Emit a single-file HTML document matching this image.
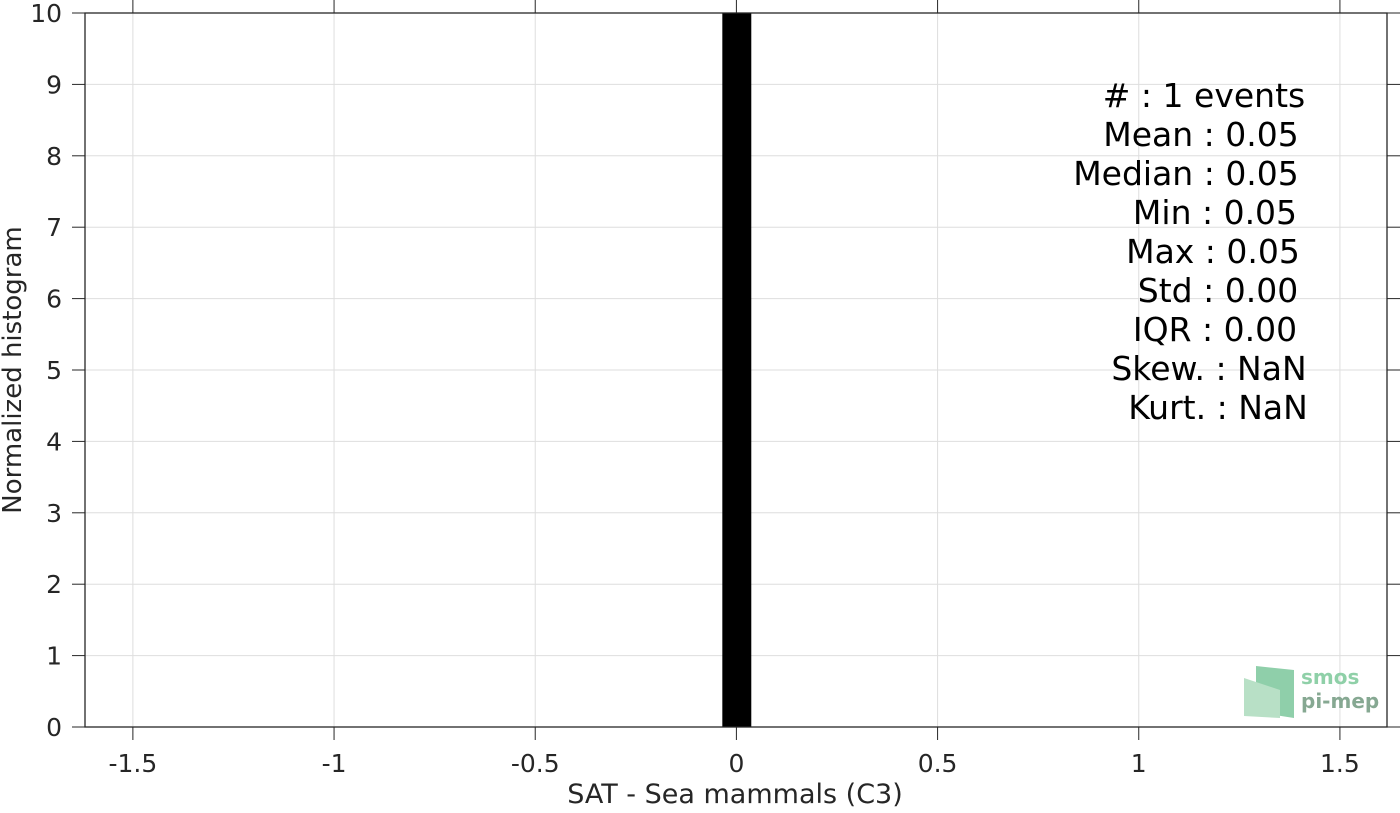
<!DOCTYPE html>
<html><head><meta charset="utf-8"><style>
body{margin:0;background:#fff;width:1400px;height:809px;overflow:hidden;font-family:"DejaVu Sans","Liberation Sans",sans-serif}
</style></head><body>
<svg id="c" width="1400" height="809" xmlns="http://www.w3.org/2000/svg"></svg>
<script>
const xTicks=[-1.5,-1,-0.5,0,0.5,1,1.5];
const xTickLabels=["-1.5","-1","-0.5","0","0.5","1","1.5"];
const yTicks=[0,1,2,3,4,5,6,7,8,9,10];
const binEdges=[[-0.035,0.037]];
const binValues=[10];
const statsLines=["#  : 1 events","Mean : 0.05","Median : 0.05","Min : 0.05","Max : 0.05","Std : 0.00","IQR : 0.00","Skew. : NaN","Kurt. : NaN"];
const L=85,R=1387,T=13,B=727,xmin=-1.619,xmax=1.617,ymin=0,ymax=10;
const X=v=>L+(v-xmin)/(xmax-xmin)*(R-L);
const Y=v=>B-(v-ymin)/(ymax-ymin)*(B-T);
const s=document.getElementById('c');const NS='http://www.w3.org/2000/svg';
function mk(t,a,p){const e=document.createElementNS(NS,t);for(const k in a)e.setAttribute(k,a[k]);(p||s).appendChild(e);return e;}
xTicks.forEach((v,i)=>{
 const g=mk('line',{x1:X(v),x2:X(v),y1:T,y2:B,stroke:'#dedede','stroke-width':1});
 
 mk('line',{x1:X(v),x2:X(v),y1:B,y2:B+13,stroke:'#262626'});mk('line',{x1:X(v),x2:X(v),y1:T,y2:0,stroke:'#262626'});
 const t=mk('text',{x:X(v),y:772,'text-anchor':'middle','font-size':25,fill:'#262626'});t.textContent=xTickLabels[i];
 
});
yTicks.forEach(v=>{
 const g=mk('line',{x1:L,x2:R,y1:Y(v),y2:Y(v),stroke:'#dedede','stroke-width':1});
 
 mk('line',{x1:L,x2:L-13,y1:Y(v),y2:Y(v),stroke:'#262626'});mk('line',{x1:R,x2:1400,y1:Y(v),y2:Y(v),stroke:'#262626'});
 const t=mk('text',{x:62,y:Y(v)+9,'text-anchor':'end','font-size':25,fill:'#262626'});t.textContent=v;
 
});
binValues.forEach((v,i)=>{
 const r=mk('rect',{x:X(binEdges[i][0]),y:Y(v),width:X(binEdges[i][1])-X(binEdges[i][0]),height:Y(0)-Y(v),fill:'#000'});
 
});
const f=mk('rect',{x:L,y:T,width:R-L,height:B-T,fill:'none',stroke:'#262626','stroke-width':1.3});

const xl=mk('text',{x:735,y:803,'text-anchor':'middle','font-size':27,fill:'#262626'});xl.textContent='SAT - Sea mammals (C3)';

const yl=mk('text',{x:0,y:0,'text-anchor':'middle','font-size':26,fill:'#262626',transform:'translate(21,370) rotate(-90)'});yl.textContent='Normalized histogram';

const cx=[1204,1201,1186,1215,1213,1218,1215,1209,1218];
statsLines.forEach((l,i)=>{
 const t=mk('text',{x:cx[i],y:107+i*39,'text-anchor':'middle','font-size':33,fill:'#000'});t.textContent=l;
 
});
const lg=mk('g',{});
mk('polygon',{points:'1256,666 1294,670 1294,718 1256,712',fill:'#8fcfaa'},lg);
mk('polygon',{points:'1244,678 1280,690 1280,718 1244,716',fill:'#b8e0c6'},lg);
const t1=mk('text',{x:1301,y:684,'font-size':20,'font-weight':'bold',fill:'#8fd0a8'},lg);t1.textContent='smos';
const t2=mk('text',{x:1301,y:708,'font-size':20,'font-weight':'bold',fill:'#86a892'},lg);t2.textContent='pi-mep';
</script>
</body></html>
